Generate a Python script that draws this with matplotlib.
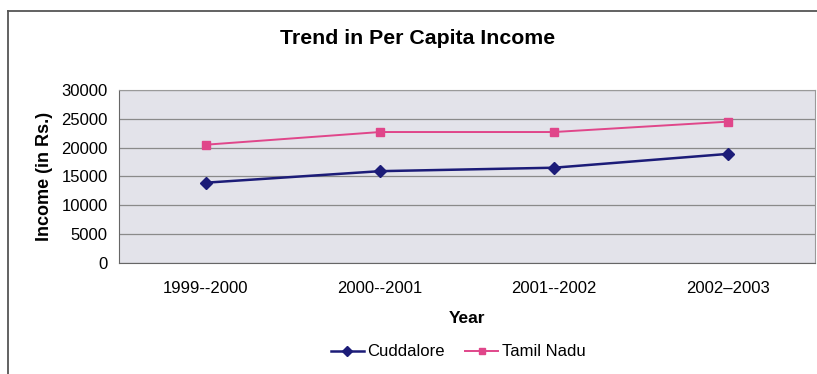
import matplotlib
matplotlib.use("Agg")
import matplotlib.pyplot as plt
from matplotlib.lines import Line2D

plt.rcParams["font.family"] = ["Liberation Sans", "DejaVu Sans"]

years = ["1999--2000", "2000--2001", "2001--2002", "2002\u20132003"]
cuddalore = [13900, 15900, 16500, 18900]
tamil_nadu = [20500, 22700, 22700, 24500]
y_ticks = [0, 5000, 10000, 15000, 20000, 25000, 30000]

fig = plt.figure(figsize=(8.17, 3.74), dpi=100)

# outer chart frame (top and left edges)
fig.add_artist(Line2D([8 / 817, 8 / 817], [0, 1 - 11 / 374], color="#555555", lw=1.3,
                      transform=fig.transFigure))
fig.add_artist(Line2D([8 / 817, 1], [1 - 11 / 374, 1 - 11 / 374], color="#555555", lw=1.3,
                      transform=fig.transFigure))

ax = fig.add_axes([119 / 817, 1 - 262.7 / 374, (815 - 119) / 817, (262.7 - 90) / 374])
ax.set_facecolor("#e3e3ea")

x = list(range(len(years)))
ax.plot(x, cuddalore, color="#1c1c78", lw=1.8, marker="D", markersize=6,
        label="Cuddalore", zorder=3)
ax.plot(x, tamil_nadu, color="#e0468a", lw=1.4, marker="s", markersize=6,
        label="Tamil Nadu", zorder=3)

ax.set_xlim(-0.5, len(years) - 0.5)
ax.set_ylim(0, 30000)
ax.set_yticks(y_ticks)
ax.set_yticklabels([str(v) for v in y_ticks], fontsize=12)
ax.set_xticks(x)
ax.set_xticklabels(years, fontsize=12)
ax.tick_params(axis="y", length=0, pad=8)
ax.tick_params(axis="x", length=0, pad=13)
ax.grid(axis="y", color="#8a8a8a", lw=0.9)
ax.set_axisbelow(True)
for side in ["top", "right"]:
    ax.spines[side].set_color("#9a9a9a")
for side in ["left", "bottom"]:
    ax.spines[side].set_color("#666666")

ax.set_xlabel("Year", fontsize=12.5, fontweight="bold", labelpad=11)
ax.set_ylabel("Income (in Rs.)", fontsize=13, fontweight="bold", labelpad=6)

fig.text(418 / 817, 1 - 39 / 374, "Trend in Per Capita Income", fontsize=15.3,
         fontweight="bold", ha="center", va="center")

fig.legend(loc="center", bbox_to_anchor=(458 / 817, 1 - 352 / 374), ncol=2,
           frameon=False, fontsize=12, handlelength=2.0, handletextpad=0.2,
           columnspacing=1.2, markerscale=0.8)

fig.savefig("out.png", dpi=100)
